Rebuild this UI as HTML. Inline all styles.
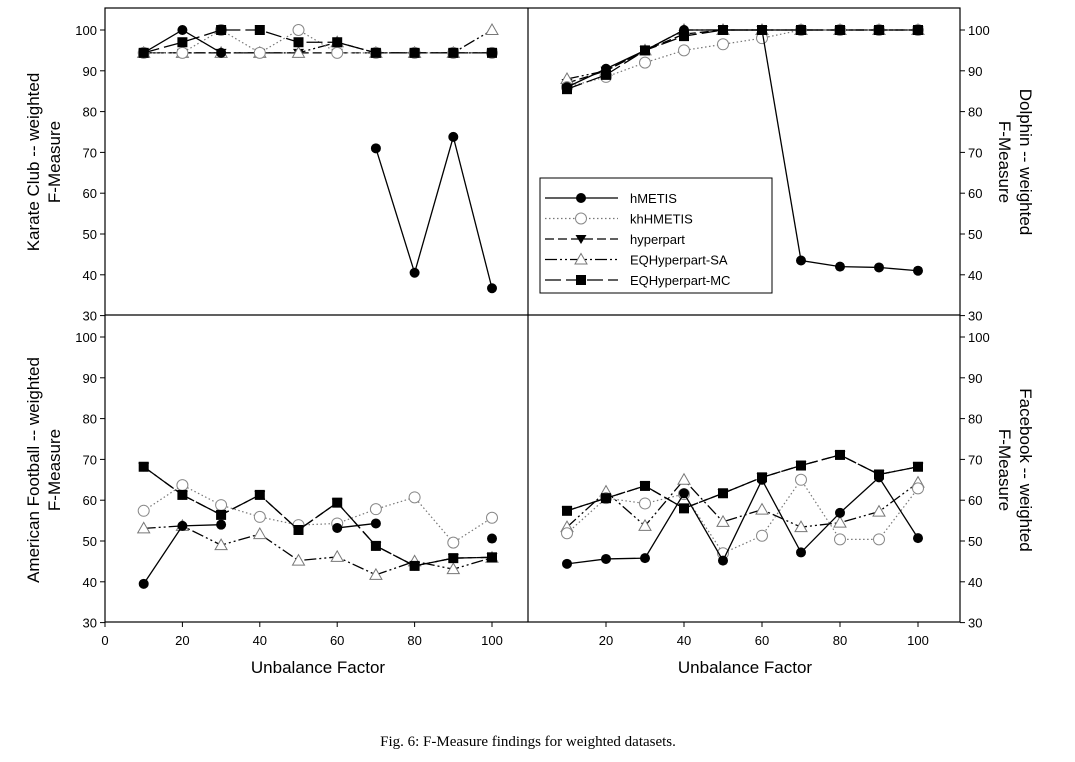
<!DOCTYPE html>
<html><head><meta charset="utf-8"><style>
body{margin:0;background:#fff;}
svg{font-family:"Liberation Sans",sans-serif;}
</style></head><body>
<svg id="c" width="1075" height="757"></svg>
<script>
const xs=[10,20,30,40,50,60,70,80,90,100];
const yTicks=[30,40,50,60,70,80,90,100];
const xTicksL=[0,20,40,60,80,100];
const xTicksR=[20,40,60,80,100];
const seriesNames=["hMETIS","khHMETIS","hyperpart","EQHyperpart-SA","EQHyperpart-MC"];
// Karate Club
const karHM=[94.4,100,94.4,null,null,null,71,40.5,73.8,36.7];
const karKH=[94.4,94.4,100,94.4,100,94.4,94.4,94.4,94.4,94.4];
const karHP=[94.4,94.4,94.4,94.4,94.4,94.4,94.4,94.4,94.4,94.4];
const karSA=[94.4,94.4,94.4,94.4,94.4,97,94.4,94.4,94.4,100];
const karMC=[94.4,97,100,100,97,97,94.4,94.4,94.4,94.4];
// Dolphin
const dolHM=[86,90.5,95,100,100,100,43.5,42,41.8,41];
const dolKH=[86,88.5,92,95,96.5,98,100,100,100,100];
const dolHP=[87,90,95,99,100,100,100,100,100,100];
const dolSA=[88,90,95,100,100,100,100,100,100,100];
const dolMC=[85.5,89,95,98.5,100,100,100,100,100,100];
// American Football
const amfHM=[39.5,53.7,54,null,null,53.2,54.3,null,null,50.6];
const amfKH=[57.4,63.7,58.8,55.9,53.9,54.3,57.8,60.7,49.6,55.7];
const amfHP=[68.2,61.3,56.4,61.3,52.7,59.4,48.8,43.9,45.8,46];
const amfSA=[53.1,53.7,49,51.7,45.2,46.1,41.7,45,43.1,45.9];
const amfMC=[68.2,61.3,56.4,61.3,52.7,59.4,48.8,43.9,45.8,46];
// Facebook
const fbHM=[44.4,45.6,45.8,61.7,45.2,65,47.2,56.9,65.6,50.7];
const fbKH=[51.9,60.5,59.2,61.5,47,51.3,65,50.4,50.4,62.9];
const fbHP=[57.4,60.5,63.5,58,61.7,65.6,68.5,71.1,66.3,68.2];
const fbSA=[53.4,62.1,53.7,65,54.7,57.7,53.4,54.5,57.2,64.3];
const fbMC=[57.4,60.5,63.5,58,61.7,65.6,68.5,71.1,66.3,68.2];

const NS="http://www.w3.org/2000/svg";
const svg=document.getElementById('c');
function mk(t,a,p){const e=document.createElementNS(NS,t);for(const k in a)e.setAttribute(k,a[k]);(p||svg).appendChild(e);return e;}
const L=105,M=528,R=960,T=8,MY=315,B=622;
function xL(v){return 105+v*3.87;}
function xR(v){return 528+v*3.9;}
function yTop(v){return 30+(100-v)*4.08;}
function yBot(v){return 337+(100-v)*4.08;}
const styles=[
 {dash:"",mk:"fc"},{dash:"1.5,2.5",mk:"oc",col:"#777"},{dash:"9,4",mk:"td"},{dash:"12,3,2,3,2,3",mk:"tu"},{dash:"16,5",mk:"sq"}];
function marker(g,type,x,y){
 let e;
 if(type=="fc")e=mk('circle',{cx:x,cy:y,r:5,fill:'#000'},g);
 else if(type=="oc")e=mk('circle',{cx:x,cy:y,r:5.5,fill:'#fff',stroke:'#888','stroke-width':1},g);
 else if(type=="td")e=mk('polygon',{points:`${x-5.5},${y-4} ${x+5.5},${y-4} ${x},${y+5}`,fill:'#000'},g);
 else if(type=="tu")e=mk('polygon',{points:`${x-6},${y+4.5} ${x+6},${y+4.5} ${x},${y-6}`,fill:'#fff',stroke:'#777','stroke-width':1},g);
 else e=mk('rect',{x:x-5,y:y-5,width:10,height:10,fill:'#000'},g);
 
 
}
function drawSeries(vals,si,fx,fy,name){
 const s=styles[si];
 const g=mk('g',{});
 
 
 let seg=[];
 const segs=[];
 vals.forEach((v,i)=>{if(v==null){if(seg.length)segs.push(seg);seg=[];}else seg.push([fx(xs[i]),fy(v)]);});
 if(seg.length)segs.push(seg);
 segs.forEach(sg=>{if(sg.length>1){const p=mk('polyline',{points:sg.map(q=>q.join(',')).join(' '),fill:'none',stroke:s.col||'#000','stroke-width':s.col?1.2:1.3,'stroke-dasharray':s.dash},g);}});
 vals.forEach((v,i)=>{if(v!=null)marker(g,s.mk,fx(xs[i]),fy(v));});
}
// frame
const fr=mk('rect',{x:L,y:T,width:R-L,height:B-T,fill:'none',stroke:'#000','stroke-width':1.2});

mk('line',{x1:M,y1:T,x2:M,y2:B,stroke:'#000','stroke-width':1.2});
mk('line',{x1:L,y1:MY,x2:R,y2:MY,stroke:'#000','stroke-width':1.2});
// y ticks
yTicks.forEach(v=>{
 [[yTop,true],[yBot,false]].forEach(([fy])=>{
  const y=fy(v);
  mk('line',{x1:L-5,y1:y,x2:L,y2:y,stroke:'#000'});
  mk('line',{x1:R,y1:y,x2:R+5,y2:y,stroke:'#000'});
  let t=mk('text',{x:L-8,y:y+5,'text-anchor':'end','font-size':13});t.textContent=v;
  
  t=mk('text',{x:R+8,y:y+5,'font-size':13});t.textContent=v;
  
 });
});
xTicksL.forEach(v=>{const x=xL(v);mk('line',{x1:x,y1:B,x2:x,y2:B+5,stroke:'#000'});
 const t=mk('text',{x:x,y:B+23,'text-anchor':'middle','font-size':13});t.textContent=v;
 });
xTicksR.forEach(v=>{const x=xR(v);mk('line',{x1:x,y1:B,x2:x,y2:B+5,stroke:'#000'});
 const t=mk('text',{x:x,y:B+23,'text-anchor':'middle','font-size':13});t.textContent=v;
 });
function title(lines,x,y,rot,name){
 const g=mk('g',{transform:`translate(${x},${y}) rotate(${rot})`});
 
 lines.forEach((s,i)=>{const t=mk('text',{x:0,y:i*21,'text-anchor':'middle','font-size':17},g);t.textContent=s;});
}
title(["Karate Club -- weighted","F-Measure"],39,162,-90,'karate-y-title');
title(["American Football  -- weighted","F-Measure"],39,470,-90,'football-y-title');
title(["Dolphin -- weighted","F-Measure"],1020,162,90,'dolphin-y-title');
title(["Facebook -- weighted","F-Measure"],1020,470,90,'facebook-y-title');
title(["Unbalance Factor"],318,673,0,'x-axis-title-left');
title(["Unbalance Factor"],745,673,0,'x-axis-title-right');
const panels=[[[karHM,karKH,karHP,karSA,karMC],xL,yTop,'karate'],[[dolHM,dolKH,dolHP,dolSA,dolMC],xR,yTop,'dolphin'],
 [[amfHM,amfKH,amfHP,amfSA,amfMC],xL,yBot,'football'],[[fbHM,fbKH,fbHP,fbSA,fbMC],xR,yBot,'facebook']];
panels.forEach(([arr,fx,fy,n])=>{[2,3,1,4,0].forEach(i=>drawSeries(arr[i],i,fx,fy,n+'-series-'+i));});
// legend
const lg=mk('g',{});

mk('rect',{x:540,y:178,width:232,height:115,fill:'#fff',stroke:'#000','stroke-width':1},lg);
seriesNames.forEach((n,i)=>{
 const y=198+i*20.5,s=styles[i];
 const e=mk('g',{},lg);
 
 mk('line',{x1:545,y1:y,x2:618,y2:y,stroke:s.col||'#000','stroke-width':1.3,'stroke-dasharray':s.dash},e);
 marker(e,s.mk,581,y);
 const t=mk('text',{x:630,y:y+5,'font-size':13},e);t.textContent=n;
});
const cap=mk('text',{x:528,y:746,'text-anchor':'middle','font-size':15,'font-family':'Liberation Serif, serif'});
cap.textContent="Fig. 6: F-Measure findings for weighted datasets.";

</script>
</body></html>
